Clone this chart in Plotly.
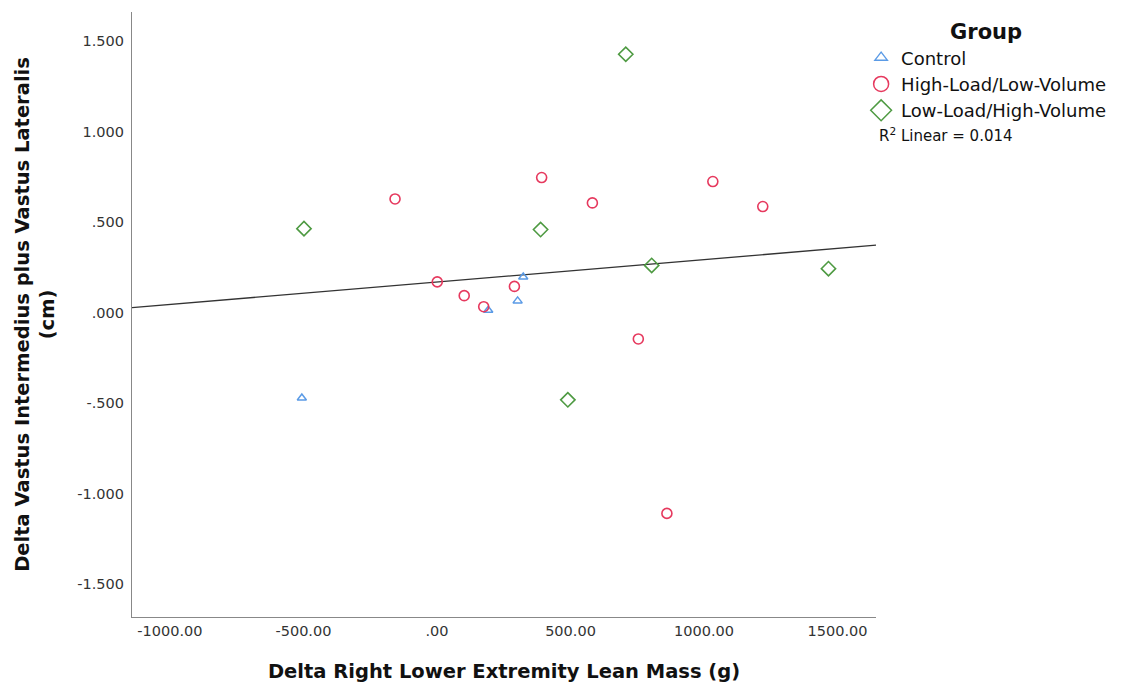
import numpy as np
import plotly.graph_objects as go

# Data
control_x = [323, 302, 192, -506]
control_y = [0.197, 0.065, 0.013, -0.471]
hlv_x = [-157, 392, 582, 1, 290, 102, 175, 754, 1033, 1220, 861]
hlv_y = [0.628, 0.746, 0.606, 0.170, 0.145, 0.094, 0.033, -0.145, 0.724, 0.586, -1.108]
llv_x = [-498, 388, 804, 490, 707, 1466]
llv_y = [0.464, 0.459, 0.261, -0.481, 1.427, 0.243]

x_ticks = [-1000, -500, 0, 500, 1000, 1500]
x_labels = ["-1000.00", "-500.00", ".00", "500.00", "1000.00", "1500.00"]
y_ticks = [1.5, 1.0, 0.5, 0.0, -0.5, -1.0, -1.5]
y_labels = ["1.500", "1.000", ".500", ".000", "-.500", "-1.000", "-1.500"]

x_range = [-1142, 1644]
y_range = [-1.68, 1.66]

C_BLUE = "#5B9BE6"
C_RED = "#E6395E"
C_GREEN = "#4E9A42"

all_x = np.array(control_x + hlv_x + llv_x, dtype=float)
all_y = np.array(control_y + hlv_y + llv_y, dtype=float)
slope, intercept = np.polyfit(all_x, all_y, 1)
fit_x = np.array(x_range, dtype=float)
fit_y = intercept + slope * fit_x

fig = go.Figure()
fig.add_trace(go.Scatter(x=fit_x, y=fit_y, mode="lines",
                         line=dict(color="#333333", width=1.3), showlegend=False, hoverinfo="skip"))
fig.add_trace(go.Scatter(x=control_x, y=control_y, mode="markers", showlegend=False,
                         marker=dict(symbol="triangle-up-open", size=8, color=C_BLUE, line=dict(width=1.5))))
fig.add_trace(go.Scatter(x=hlv_x, y=hlv_y, mode="markers", showlegend=False,
                         marker=dict(symbol="circle-open", size=10, color=C_RED, line=dict(width=1.6))))
fig.add_trace(go.Scatter(x=llv_x, y=llv_y, mode="markers", showlegend=False,
                         marker=dict(symbol="diamond-open", size=11, color=C_GREEN, line=dict(width=1.6))))

# legend entries
fig.add_trace(go.Scatter(x=[None], y=[None], mode="markers", name="Control",
                         marker=dict(symbol="triangle-up-open", size=11, color=C_BLUE, line=dict(width=1.3))))
fig.add_trace(go.Scatter(x=[None], y=[None], mode="markers", name="High-Load/Low-Volume",
                         marker=dict(symbol="circle-open", size=15, color=C_RED, line=dict(width=1.5))))
fig.add_trace(go.Scatter(x=[None], y=[None], mode="markers", name="Low-Load/High-Volume",
                         marker=dict(symbol="diamond-open", size=17, color=C_GREEN, line=dict(width=1.5))))

FONT = "DejaVu Sans, Verdana, sans-serif"

fig.update_layout(
    width=1122, height=678,
    paper_bgcolor="white", plot_bgcolor="white",
    margin=dict(l=124, r=254, t=4, b=69),
    font=dict(family=FONT, color="#222222"),
    legend=dict(
        x=0.98, xanchor="left", y=1.0, yanchor="top",
        title=dict(text="<b>Group</b>", side="top center", font=dict(size=21, color="#111111")),
        font=dict(size=18, color="#111111"),
        tracegroupgap=0, itemwidth=30,
        bgcolor="rgba(0,0,0,0)",
    ),
    xaxis=dict(
        range=x_range, tickvals=x_ticks, ticktext=x_labels,
        showgrid=False, zeroline=False, showline=True, linecolor="#888888", linewidth=1.2,
        ticks="", tickfont=dict(size=14.5, color="#333333"),
        title=dict(text="<b>Delta Right Lower Extremity Lean Mass (g)</b>",
                   font=dict(size=19.5, color="#111111"), standoff=26),
    ),
    yaxis=dict(
        range=y_range, tickvals=y_ticks, ticktext=y_labels,
        showgrid=False, zeroline=False, showline=True, linecolor="#888888", linewidth=1.2,
        ticks="", tickfont=dict(size=14.5, color="#333333"), ticklabelstandoff=4,
        title=dict(text="<b>Delta Vastus Intermedius plus Vastus Lateralis<br>(cm)</b>",
                   font=dict(size=19.5, color="#111111"), standoff=17),
    ),
)

fig.add_annotation(xref="paper", yref="paper", x=1.001, y=0.797, xanchor="left", yanchor="middle",
                   text="R<sup>2</sup> Linear = 0.014", showarrow=False,
                   font=dict(size=15, color="#111111"))

fig.write_html("out.html")
